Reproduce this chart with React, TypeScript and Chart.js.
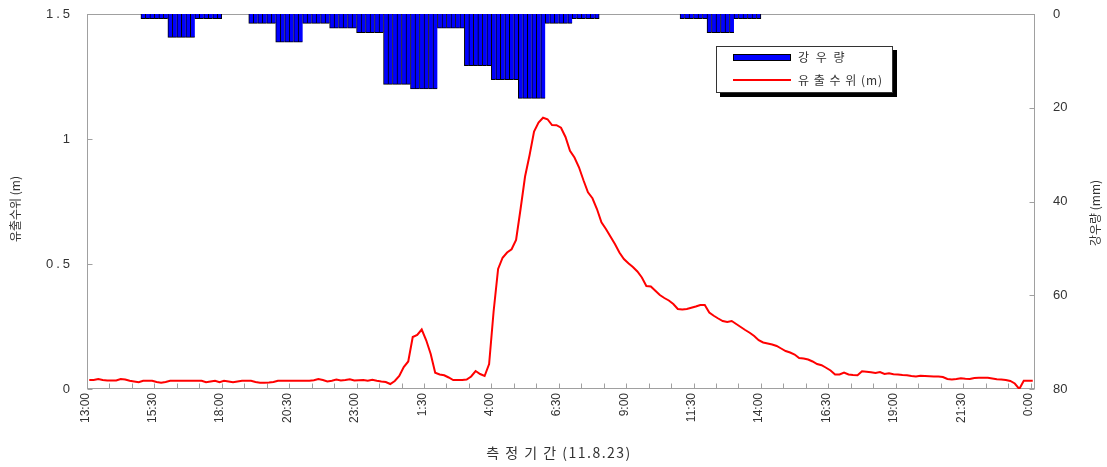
import { useEffect, useRef } from 'react';
import { Chart, registerables } from 'chart.js';

Chart.register(...registerables);

const N = null;

// 10-minute categories from 13:00 (11.8.22) to 0:00 (11.8.24)
const categories: string[] = [];
for (let i = 0; i < 211; i++) {
  const m = 13 * 60 + i * 10;
  const h = Math.floor(m / 60) % 24;
  const mm = m % 60;
  categories.push(`${h}:${String(mm).padStart(2, '0')}`);
}

// labels shown every 15 categories (2.5 h)
const xTickLabels = ['13:00', '15:30', '18:00', '20:30', '23:00', '1:30', '4:00', '6:30', '9:00', '11:30', '14:00', '16:30', '19:00', '21:30', '0:00'];

// 유출수위 (m), one value per 10 minutes, one row per hour
const waterLevel = [
  0.036, 0.036, 0.040, 0.036, 0.034, 0.034, // 13
  0.034, 0.040, 0.038, 0.033, 0.030, 0.027, // 14
  0.033, 0.033, 0.033, 0.028, 0.025, 0.028, // 15
  0.033, 0.033, 0.033, 0.033, 0.033, 0.033, // 16
  0.033, 0.033, 0.027, 0.030, 0.033, 0.027, // 17
  0.033, 0.030, 0.027, 0.030, 0.033, 0.033, // 18
  0.033, 0.028, 0.025, 0.025, 0.026, 0.028, // 19
  0.033, 0.033, 0.033, 0.033, 0.033, 0.033, // 20
  0.033, 0.033, 0.035, 0.040, 0.036, 0.030, // 21
  0.033, 0.038, 0.034, 0.036, 0.039, 0.034, // 22
  0.035, 0.036, 0.033, 0.037, 0.033, 0.030, // 23
  0.028, 0.020, 0.032, 0.052, 0.088, 0.110, // 0
  0.208, 0.216, 0.238, 0.195, 0.140, 0.065, // 1
  0.058, 0.055, 0.046, 0.036, 0.036, 0.036, // 2
  0.038, 0.050, 0.072, 0.060, 0.052, 0.100, // 3
  0.310, 0.480, 0.525, 0.546, 0.559, 0.596, // 4
  0.720, 0.850, 0.935, 1.030, 1.066, 1.085, // 5
  1.079, 1.056, 1.055, 1.045, 1.008, 0.953, // 6
  0.926, 0.887, 0.835, 0.787, 0.763, 0.720, // 7
  0.667, 0.640, 0.610, 0.580, 0.546, 0.520, // 8
  0.503, 0.488, 0.470, 0.446, 0.412, 0.410, // 9
  0.393, 0.376, 0.364, 0.354, 0.340, 0.320, // 10
  0.318, 0.320, 0.325, 0.330, 0.336, 0.336, // 11
  0.306, 0.293, 0.282, 0.272, 0.268, 0.272, // 12
  0.260, 0.248, 0.236, 0.225, 0.212, 0.195, // 13
  0.186, 0.182, 0.178, 0.172, 0.162, 0.152, // 14
  0.146, 0.138, 0.124, 0.122, 0.118, 0.110, // 15
  0.100, 0.095, 0.085, 0.074, 0.058, 0.058, // 16
  0.066, 0.058, 0.056, 0.055, 0.071, 0.069, // 17
  0.067, 0.064, 0.068, 0.060, 0.063, 0.059, // 18
  0.058, 0.056, 0.055, 0.052, 0.050, 0.053, // 19
  0.052, 0.051, 0.050, 0.050, 0.048, 0.040, // 20
  0.038, 0.040, 0.043, 0.041, 0.040, 0.044, // 21
  0.045, 0.045, 0.045, 0.042, 0.039, 0.038, // 22
  0.036, 0.032, 0.022, 0.000, 0.033, 0.033, // 23
  0.033, // 0:00
];

// 강우량 (mm), one value per 10-minute slot, one row per hour
const rainfall = [
  N, N, N, N, N, N, // 13
  N, N, N, N, N, N, // 14
  1, 1, 1, 1, 1, 1, // 15
  5, 5, 5, 5, 5, 5, // 16
  1, 1, 1, 1, 1, 1, // 17
  N, N, N, N, N, N, // 18
  2, 2, 2, 2, 2, 2, // 19
  6, 6, 6, 6, 6, 6, // 20
  2, 2, 2, 2, 2, 2, // 21
  3, 3, 3, 3, 3, 3, // 22
  4, 4, 4, 4, 4, 4, // 23
  15, 15, 15, 15, 15, 15, // 0
  16, 16, 16, 16, 16, 16, // 1
  3, 3, 3, 3, 3, 3, // 2
  11, 11, 11, 11, 11, 11, // 3
  14, 14, 14, 14, 14, 14, // 4
  18, 18, 18, 18, 18, 18, // 5
  2, 2, 2, 2, 2, 2, // 6
  1, 1, 1, 1, 1, 1, // 7
  N, N, N, N, N, N, // 8
  N, N, N, N, N, N, // 9
  N, N, N, N, N, N, // 10
  1, 1, 1, 1, 1, 1, // 11
  4, 4, 4, 4, 4, 4, // 12
  1, 1, 1, 1, 1, 1, // 13
  N, N, N, N, N, N, // 14
  N, N, N, N, N, N, // 15
  N, N, N, N, N, N, // 16
  N, N, N, N, N, N, // 17
  N, N, N, N, N, N, // 18
  N, N, N, N, N, N, // 19
  N, N, N, N, N, N, // 20
  N, N, N, N, N, N, // 21
  N, N, N, N, N, N, // 22
  N, N, N, N, N, N, // 23
  N, // 0:00
];

const leftTicks = [0, 0.5, 1, 1.5];
const leftTickLabels = ['0', '0.5', '1', '1.5'];
const rightTicks = [0, 20, 40, 60, 80];

const LATIN = "'Liberation Sans', Arial, sans-serif";
const KOR = "'Noto Sans CJK KR', 'Liberation Sans', sans-serif";
const TEXT = '#333333';
const FRAME = '#a0a0a0';

const framePlugin = {
  id: 'frame',
  beforeDatasetsDraw(chart: any) {
    const { ctx, chartArea } = chart;
    const { left, right, top, bottom } = chartArea;
    ctx.save();
    ctx.strokeStyle = FRAME;
    ctx.lineWidth = 1;
    const L = Math.round(left) + 0.5;
    const R = Math.round(right) - 0.5;
    const T = Math.round(top) + 0.5;
    const B = Math.round(bottom) - 0.5;
    ctx.strokeRect(L, T, R - L, B - T);
    ctx.beginPath();
    const n = categories.length;
    for (let i = 0; i <= n; i += 5) {
      const px = Math.round(left + ((right - left) * i) / n) + 0.5;
      ctx.moveTo(px, B);
      ctx.lineTo(px, B - 5);
    }
    const ys = chart.scales.y;
    leftTicks.forEach((v) => {
      const py = Math.round(ys.getPixelForValue(v)) + 0.5;
      ctx.moveTo(L, py);
      ctx.lineTo(L + 5, py);
    });
    const y1 = chart.scales.y1;
    rightTicks.forEach((v) => {
      const py = Math.round(y1.getPixelForValue(v)) + 0.5;
      ctx.moveTo(R, py);
      ctx.lineTo(R - 5, py);
    });
    ctx.stroke();
    ctx.restore();
  },
  afterDraw(chart: any) {
    const { ctx } = chart;
    const ys = chart.scales.y;
    ctx.save();
    // left tick labels (wide spaced)
    ctx.fillStyle = TEXT;
    ctx.font = `13px ${LATIN}`;
    ctx.textAlign = 'right';
    ctx.textBaseline = 'middle';
    (ctx as any).letterSpacing = '3px';
    leftTicks.forEach((v, i) => {
      ctx.fillText(leftTickLabels[i], 73, ys.getPixelForValue(v));
    });
    (ctx as any).letterSpacing = '0px';

    // axis titles
    ctx.font = `12px ${KOR}`;
    ctx.textAlign = 'center';
    ctx.save();
    ctx.translate(15, 209);
    ctx.rotate(-Math.PI / 2);
    ctx.fillText('유출수위 (m)', 0, 0);
    ctx.restore();
    ctx.save();
    ctx.translate(1095, 213);
    ctx.rotate(-Math.PI / 2);
    ctx.fillText('강우량 (mm)', 0, 0);
    ctx.restore();

    ctx.font = `14px ${KOR}`;
    (ctx as any).letterSpacing = '1.5px';
    ctx.fillText('측 정 기 간 (11.8.23)', 559, 453);
    (ctx as any).letterSpacing = '0px';

    // legend
    const bx = 716, by = 46, bw = 177, bh = 47;
    ctx.fillStyle = '#000000';
    ctx.fillRect(bx + 4, by + 4, bw, bh);
    ctx.fillStyle = '#ffffff';
    ctx.fillRect(bx, by, bw, bh);
    ctx.strokeStyle = '#333333';
    ctx.lineWidth = 1;
    ctx.strokeRect(bx + 0.5, by + 0.5, bw - 1, bh - 1);

    ctx.fillStyle = '#0000ff';
    ctx.fillRect(733, 54, 58, 7);
    ctx.strokeStyle = '#000000';
    ctx.strokeRect(733.5, 54.5, 57, 6);

    ctx.strokeStyle = '#ff0000';
    ctx.lineWidth = 2;
    ctx.beginPath();
    ctx.moveTo(733, 80);
    ctx.lineTo(791, 80);
    ctx.stroke();

    ctx.fillStyle = TEXT;
    ctx.font = `12px ${KOR}`;
    ctx.textAlign = 'left';
    ctx.textBaseline = 'middle';
    (ctx as any).letterSpacing = '2px';
    ctx.fillText('강 우 량', 798, 57);
    (ctx as any).letterSpacing = '1px';
    ctx.fillText('유 출 수 위 (m)', 798, 80);
    (ctx as any).letterSpacing = '0px';
    ctx.restore();
  },
};

export default function App() {
  const ref = useRef<HTMLCanvasElement | null>(null);

  useEffect(() => {
    if (!ref.current) return;
    const chart = new Chart(ref.current, {
      type: 'bar',
      data: {
        labels: categories,
        datasets: [
          {
            type: 'line',
            label: '유출수위(m)',
            data: waterLevel,
            yAxisID: 'y',
            borderColor: '#ff0000',
            backgroundColor: '#ff0000',
            borderWidth: 2,
            pointRadius: 0,
            tension: 0,
            order: 1,
          } as any,
          {
            type: 'bar',
            label: '강우량',
            data: rainfall,
            yAxisID: 'y1',
            backgroundColor: '#0000ff',
            borderColor: '#000000',
            borderSkipped: false,
            borderWidth: (c: any) => {
              const i = c.dataIndex;
              const next = rainfall[i + 1];
              return { top: 0, left: 1, bottom: 1, right: next == null ? 1 : 0 };
            },
            categoryPercentage: 1,
            barPercentage: 1,
            order: 2,
          } as any,
        ],
      },
      options: {
        responsive: false,
        devicePixelRatio: 1,
        animation: false,
        layout: { padding: { top: 14, left: 0, right: 0, bottom: 0 } },
        plugins: {
          legend: { display: false },
          title: { display: false },
          tooltip: { enabled: false },
        },
        scales: {
          x: {
            type: 'category',
            offset: true,
            grid: { display: false, drawTicks: false },
            border: { display: false },
            ticks: {
              autoSkip: false,
              minRotation: 90,
              maxRotation: 90,
              padding: 4,
              labelOffset: -4,
              color: TEXT,
              font: { family: LATIN, size: 12 },
              callback: (_v: any, i: number) => (i % 15 === 0 ? xTickLabels[i / 15] : null),
            },
            afterFit: (s: any) => {
              s.height = 78;
              s.paddingLeft = 0;
              s.paddingRight = 0;
            },
          },
          y: {
            position: 'left',
            min: 0,
            max: 1.5,
            ticks: { display: false, stepSize: 0.5 },
            grid: { display: false, drawTicks: false },
            border: { display: false },
            afterFit: (s: any) => {
              s.width = 87;
              s.paddingTop = 0;
              s.paddingBottom = 0;
            },
          },
          y1: {
            position: 'right',
            reverse: true,
            min: 0,
            max: 80,
            ticks: { stepSize: 20, padding: 18, color: TEXT, font: { family: LATIN, size: 13 } },
            grid: { display: false, drawTicks: false },
            border: { display: false },
            afterFit: (s: any) => {
              s.width = 72;
              s.paddingTop = 0;
              s.paddingBottom = 0;
            },
          },
        },
      } as any,
      plugins: [framePlugin],
    });
    return () => chart.destroy();
  }, []);

  return (
    <div style={{ position: 'absolute', left: 0, top: 0, width: 1107, height: 467, background: '#ffffff' }}>
      <canvas ref={ref} width={1107} height={467} style={{ display: 'block' }} />
    </div>
  );
}
